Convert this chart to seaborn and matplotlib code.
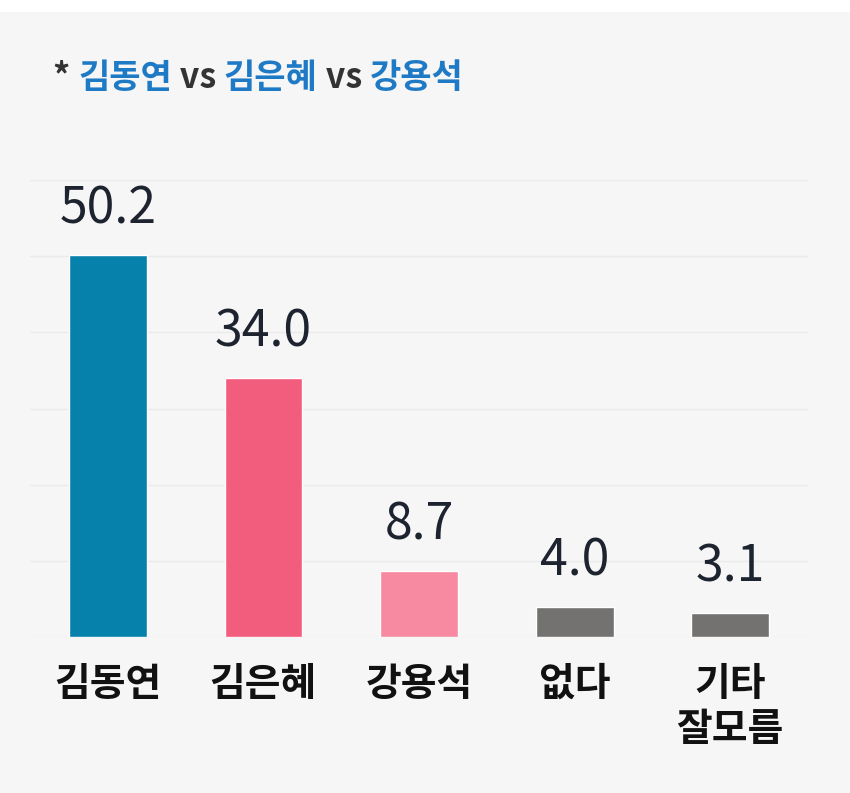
import matplotlib
matplotlib.use("Agg")
import matplotlib.pyplot as plt
import seaborn as sns
import pandas as pd
from matplotlib.offsetbox import TextArea, HPacker, AnchoredOffsetbox
from matplotlib.patches import Rectangle

categories = ["김동연", "김은혜", "강용석", "없다", "기타\n잘모름"]
values = [50.2, 34.0, 8.7, 4.0, 3.1]
value_labels = ["50.2", "34.0", "8.7", "4.0", "3.1"]
bar_colors = ["#0681ab", "#f25c7d", "#f78aa1", "#747171", "#747171"]
title_parts = [("* ", "#333333"), ("김동연", "#1f7ac6"), (" vs ", "#333333"),
               ("김은혜", "#1f7ac6"), (" vs ", "#333333"), ("강용석", "#1f7ac6")]
grid_ticks = [0, 10, 20, 30, 40, 50, 60]

sns.set_theme(style="white")
plt.rcParams["font.family"] = ["Noto Sans CJK KR", "DejaVu Sans"]

bg = "#f6f6f6"
fig = plt.figure(figsize=(8.5, 7.93), dpi=100, facecolor=bg)
ax = fig.add_axes([30 / 850, 1 - 637 / 793, 778 / 850, (637 - 180) / 793])
ax.set_facecolor(bg)

df = pd.DataFrame({"cat": categories, "val": values})
sns.barplot(data=df, x="cat", y="val", hue="cat", palette=bar_colors,
            legend=False, width=0.5, ax=ax, saturation=1)

ax.set_xlim(-0.5, 4.5)
ax.set_ylim(0, 60)
ax.set_yticks(grid_ticks)
ax.set_yticklabels([])
ax.tick_params(axis="y", length=0)
ax.grid(axis="y", color="#ebebeb", linewidth=1)
ax.set_axisbelow(True)
for s in ax.spines.values():
    s.set_visible(False)
ax.set_xlabel("")
ax.set_ylabel("")
ax.tick_params(axis="x", length=0, pad=20)
ax.set_xticks(range(len(categories)))
ax.set_xticklabels(categories, fontsize=28, fontweight="bold", color="#111111",
                   va="top", linespacing=1.2)

for i, (v, lab) in enumerate(zip(values, value_labels)):
    ax.annotate(lab, xy=(i, v), xytext=(0, 14), textcoords="offset points",
                ha="center", va="bottom", fontsize=36, color="#1e2330",
                fontweight="medium", annotation_clip=False)

# title with mixed colours
areas = [TextArea(t, textprops=dict(color=c, fontsize=24.5, fontweight="bold",
                                     family=["Noto Sans CJK KR", "DejaVu Sans"]))
         for t, c in title_parts]
box = HPacker(children=areas, align="baseline", pad=0, sep=0)
anch = AnchoredOffsetbox(loc="upper left", child=box, pad=0, frameon=False,
                         bbox_to_anchor=(53 / 850, 1 - 60 / 793),
                         bbox_transform=fig.transFigure, borderpad=0)
fig.add_artist(anch)

# white strip on top
fig.add_artist(Rectangle((0, 1 - 12 / 793), 1, 12 / 793, transform=fig.transFigure,
                         facecolor="white", edgecolor="none"))

fig.savefig("out.png", dpi=100, facecolor=bg)
